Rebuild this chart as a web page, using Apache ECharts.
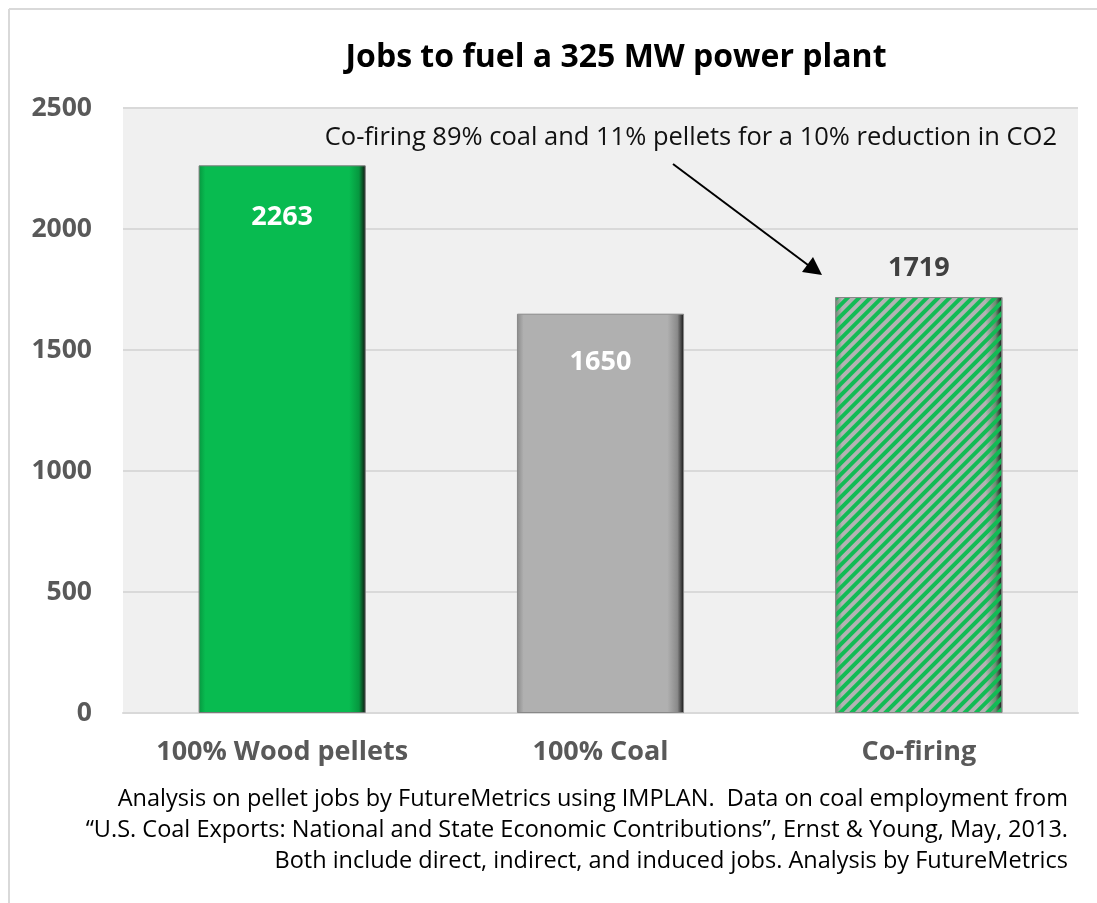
<!DOCTYPE html>
<html><head><meta charset="utf-8">
<script src="https://cdn.jsdelivr.net/npm/echarts@6/dist/echarts.min.js"></script>
<style>html,body{margin:0;padding:0;background:#fff}#c{width:1097px;height:903px}</style>
</head><body><div id="c"></div>
<script>
const categories = ['100% Wood pellets', '100% Coal', 'Co-firing'];
const jobs = [2263, 1650, 1719];
const yTicks = [0, 500, 1000, 1500, 2000, 2500];
const titleText = 'Jobs to fuel a 325 MW power plant';
const noteText = 'Co-firing 89% coal and 11% pellets for a 10% reduction in CO2';
const footLines = [
  'Analysis on pellet jobs by FutureMetrics using IMPLAN.  Data on coal employment from',
  '\u201cU.S. Coal Exports: National and State Economic Contributions\u201d, Ernst & Young, May, 2013.',
  'Both include direct, indirect, and induced jobs. Analysis by FutureMetrics'
];

const FONT = '"Open Sans", sans-serif';
function bevel(base, dark) {
  return { type: 'linear', x: 0, y: 0, x2: 1, y2: 0, colorStops: [
    { offset: 0, color: dark }, { offset: 0.04, color: base }, { offset: 0.9, color: base },
    { offset: 0.96, color: dark }, { offset: 1, color: '#111' } ] };
}
const styles = [
  { itemStyle: { color: bevel('#08bb50', '#06973f'), borderColor: '#7a7a7a', borderWidth: 1 },
    label: { position: 'insideTop', distance: 38, color: '#ffffff' } },
  { itemStyle: { color: bevel('#b0b0b0', '#8a8a8a'), borderColor: '#888', borderWidth: 1 },
    label: { position: 'insideTop', distance: 35, color: '#ffffff' } },
  { itemStyle: { color: bevel('#b3b3b3', '#6a8a70'), borderColor: '#888', borderWidth: 1,
      decal: { symbol: 'rect', dashArrayX: [1, 0], dashArrayY: [4, 4], rotation: -Math.PI / 4, color: '#12bb55', symbolSize: 1 } },
    label: { position: 'top', distance: 15, color: '#404040' } }
];
const dataItems = jobs.map((v, i) => Object.assign({ value: v }, styles[i]));

const chart = echarts.init(document.getElementById('c'));
chart.setOption({
  animation: false,
  backgroundColor: '#fff',
  title: { text: titleText, left: 611, top: 37, textAlign: 'center',
    textStyle: { fontFamily: FONT, fontSize: 32, fontWeight: 'bold', color: '#000' } },
  grid: { left: 123, right: 19, top: 108, bottom: 190, show: true, backgroundColor: '#f0f0f0', borderWidth: 0 },
  xAxis: { type: 'category', data: categories,
    axisLine: { show: true, lineStyle: { color: '#d9d9d9', width: 2 } }, axisTick: { show: false },
    axisLabel: { interval: 0, hideOverlap: false, margin: 26, fontFamily: FONT, fontSize: 27, fontWeight: 'bold', color: '#595959' } },
  yAxis: { type: 'value', min: yTicks[0], max: yTicks[yTicks.length - 1], interval: yTicks[1] - yTicks[0],
    axisLine: { show: false }, axisTick: { show: false },
    splitLine: { lineStyle: { color: '#d9d9d9', width: 2 } },
    axisLabel: { margin: 31, formatter: v => String(v), fontFamily: FONT, fontSize: 26.5, fontWeight: 'bold', color: '#595959' } },
  series: [{
    type: 'bar', data: dataItems, barWidth: '52.5%',
    label: { show: true, fontFamily: FONT, fontSize: 27, fontWeight: 'bold' }
  }],
  graphic: [
    { type: 'line', z: 100, shape: { x1: 9, y1: 9, x2: 1097, y2: 9 }, style: { stroke: '#d9d9d9', lineWidth: 2 } },
    { type: 'line', z: 100, shape: { x1: 9, y1: 9, x2: 9, y2: 903 }, style: { stroke: '#d9d9d9', lineWidth: 2 } },
    { type: 'text', z: 100, right: 40, top: 125, style: { text: noteText, fontFamily: FONT, fontSize: 25.5, fill: '#111', textAlign: 'right' } },
    { type: 'line', z: 100, shape: { x1: 673, y1: 164, x2: 808, y2: 265 }, style: { stroke: '#000', lineWidth: 2 } },
    { type: 'polygon', z: 100, shape: { points: [[822, 275], [802, 272], [813, 257]] }, style: { fill: '#000' } },
    ...footLines.map((t, i) => ({ type: 'text', z: 100, right: 29, top: 787 + i * 31,
      style: { text: t, fontFamily: FONT, fontSize: 23.5, fill: '#000', textAlign: 'right' } }))
  ]
});
</script></body></html>
